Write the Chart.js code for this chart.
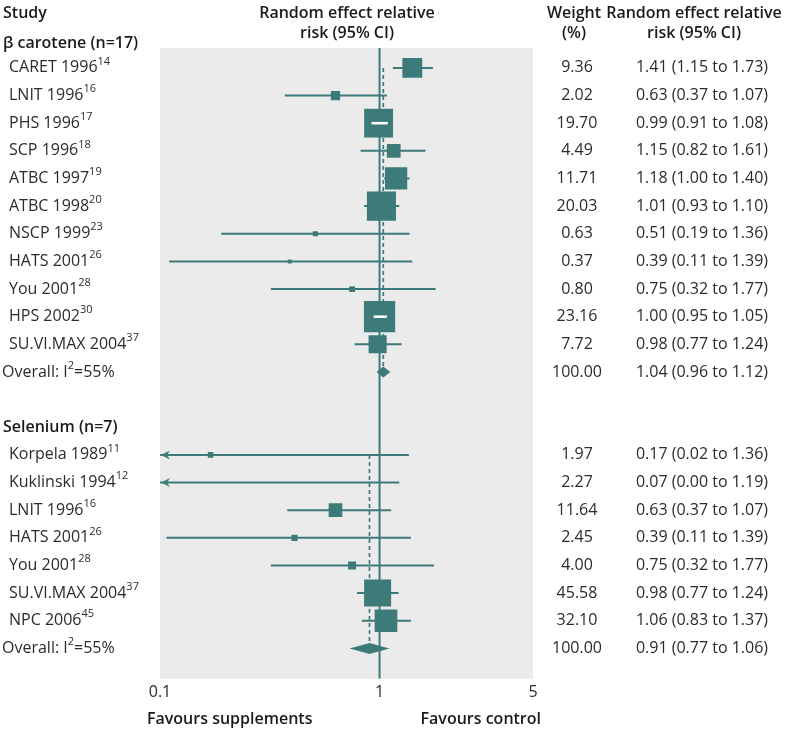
<!DOCTYPE html>
<html>
<head>
<meta charset="utf-8">
<script src="https://cdn.jsdelivr.net/npm/chart.js@4.4.1/dist/chart.umd.min.js"></script>
<style>
  body { margin: 0; background: #ffffff; }
  #forest { display: block; }
</style>
</head>
<body>
<canvas id="forest" width="790" height="730"></canvas>
<script>
// beta carotene trials
let betaStudies = ['CARET 1996', 'LNIT 1996', 'PHS 1996', 'SCP 1996', 'ATBC 1997', 'ATBC 1998',
  'NSCP 1999', 'HATS 2001', 'You 2001', 'HPS 2002', 'SU.VI.MAX 2004'];
let betaRefs = ['14', '16', '17', '18', '19', '20', '23', '26', '28', '30', '37'];
let betaWeights = [9.36, 2.02, 19.70, 4.49, 11.71, 20.03, 0.63, 0.37, 0.80, 23.16, 7.72];
let betaRR = ['1.41 (1.15 to 1.73)', '0.63 (0.37 to 1.07)', '0.99 (0.91 to 1.08)', '1.15 (0.82 to 1.61)',
  '1.18 (1.00 to 1.40)', '1.01 (0.93 to 1.10)', '0.51 (0.19 to 1.36)', '0.39 (0.11 to 1.39)',
  '0.75 (0.32 to 1.77)', '1.00 (0.95 to 1.05)', '0.98 (0.77 to 1.24)'];
// what the plot draws
let betaEst = [1.41, 0.63, 0.99, 1.16, 1.19, 1.02, 0.51, 0.39, 0.75, 1.00, 0.98];
let betaLo = [1.15, 0.37, 0.92, 0.82, 1.05, 0.85, 0.19, 0.11, 0.32, 0.94, 0.77];
let betaHi = [1.75, 1.08, 1.09, 1.62, 1.37, 1.23, 1.37, 1.41, 1.80, 1.08, 1.26];
let betaPooled = [1.04, 0.97, 1.12]; // estimate, low, high
let betaPooledRR = '1.04 (0.96 to 1.12)';

// selenium trials
let selStudies = ['Korpela 1989', 'Kuklinski 1994', 'LNIT 1996', 'HATS 2001', 'You 2001',
  'SU.VI.MAX 2004', 'NPC 2006'];
let selRefs = ['11', '12', '16', '26', '28', '37', '45'];
let selWeights = [1.97, 2.27, 11.64, 2.45, 4.00, 45.58, 32.10];
let selRR = ['0.17 (0.02 to 1.36)', '0.07 (0.00 to 1.19)', '0.63 (0.37 to 1.07)', '0.39 (0.11 to 1.39)',
  '0.75 (0.32 to 1.77)', '0.98 (0.77 to 1.24)', '1.06 (0.83 to 1.37)'];
let selEst = [0.17, 0.07, 0.63, 0.41, 0.75, 0.98, 1.07];
let selLo = [0.02, 0.00, 0.38, 0.107, 0.32, 0.79, 0.83];
let selHi = [1.36, 1.23, 1.13, 1.39, 1.77, 1.22, 1.39];
let selPooled = [0.90, 0.73, 1.11];
let selPooledRR = '0.91 (0.77 to 1.06)';

let tickValues = [0.1, 1, 5];
let tickLabels = ['0.1', '1', '5'];

let teal = '#3d7b7b';
let textColor = '#2b2b2b';
let font = '"Open Sans", "Noto Sans", sans-serif';
let bold = '600 16px ' + font;
let xMin = 0.1, xMax = 5;

// each group: where it sits (row numbers) and how big its boxes are
let groups = [
  { title: 'β carotene (n=17)', titleRow: -0.9, firstRow: 0, boxScale: 6.5,
    names: betaStudies, refs: betaRefs, weights: betaWeights, rr: betaRR,
    est: betaEst, lo: betaLo, hi: betaHi, pooled: betaPooled, pooledRR: betaPooledRR },
  { title: 'Selenium (n=7)', titleRow: 13, firstRow: 14, boxScale: 4,
    names: selStudies, refs: selRefs, weights: selWeights, rr: selRR,
    est: selEst, lo: selLo, hi: selHi, pooled: selPooled, pooledRR: selPooledRR }
];

// build the datasets from the arrays
let boxes = [];
let boxRadius = [];
let ciLines = [];
let dashed = [];
for (const g of groups) {
  g.est.forEach((v, i) => {
    let row = g.firstRow + i;
    // a point with no values breaks the line
    ciLines.push({ x: Math.max(g.lo[i], xMin), y: row }, { x: Math.min(g.hi[i], xMax), y: row }, { x: null, y: null });
    if (v >= xMin) {
      boxes.push({ x: v, y: row });
      // chart.js rect side = radius * sqrt(2)
      boxRadius.push(g.boxScale * Math.sqrt(g.weights[i]) / Math.SQRT2);
    }
  });
  g.overallRow = g.firstRow + g.est.length;
  dashed.push({
    showLine: true, pointRadius: 0, borderColor: teal, borderWidth: 1.7,
    borderDash: [4, 3],
    data: [{ x: g.pooled[0], y: g.firstRow }, { x: g.pooled[0], y: g.overallRow }]
  });
}

// grey panel behind the plot
let panel = {
  id: 'panel',
  beforeDatasetsDraw(chart) {
    let a = chart.chartArea;
    let ctx = chart.ctx;
    ctx.save();
    ctx.fillStyle = '#ebebeb';
    ctx.fillRect(a.left, a.top, a.right - a.left, a.bottom - a.top);
    ctx.restore();
  }
};

// diamonds, arrows and the white line inside big boxes
let marks = {
  id: 'marks',
  afterDatasetsDraw(chart) {
    let ctx = chart.ctx;
    let xs = chart.scales.x, ys = chart.scales.y;
    ctx.save();
    for (const g of groups) {
      g.est.forEach((v, i) => {
        let y = ys.getPixelForValue(g.firstRow + i);
        let lo = xs.getPixelForValue(Math.max(g.lo[i], xMin));
        let hi = xs.getPixelForValue(Math.min(g.hi[i], xMax));
        let side = g.boxScale * Math.sqrt(g.weights[i]);
        let cx = xs.getPixelForValue(v);
        if (v >= xMin && lo > cx - side / 2 && hi < cx + side / 2) {
          ctx.strokeStyle = '#ffffff';
          ctx.lineWidth = 2.5;
          ctx.beginPath();
          ctx.moveTo(lo, y);
          ctx.lineTo(hi, y);
          ctx.stroke();
        }
        if (g.lo[i] < xMin) {
          let left = chart.chartArea.left;
          ctx.fillStyle = teal;
          ctx.beginPath();
          ctx.moveTo(left + 1, y);
          ctx.lineTo(left + 10, y - 4.5);
          ctx.lineTo(left + 7, y);
          ctx.lineTo(left + 10, y + 4.5);
          ctx.closePath();
          ctx.fill();
        }
      });
      // pooled diamond
      let y = ys.getPixelForValue(g.overallRow);
      ctx.fillStyle = teal;
      ctx.beginPath();
      ctx.moveTo(xs.getPixelForValue(g.pooled[1]), y);
      ctx.lineTo(xs.getPixelForValue(g.pooled[0]), y - 5.5);
      ctx.lineTo(xs.getPixelForValue(g.pooled[2]), y);
      ctx.lineTo(xs.getPixelForValue(g.pooled[0]), y + 5.5);
      ctx.closePath();
      ctx.fill();
    }
    ctx.restore();
  }
};

// draws text with a superscript, parts = [[text, isSup], ...]
function drawParts(ctx, parts, x, y, size) {
  for (const [t, sup] of parts) {
    ctx.font = (sup ? Math.round(size * 0.68) : size) + 'px ' + font;
    ctx.fillText(t, x, sup ? y - size * 0.4 : y);
    x += ctx.measureText(t).width;
  }
}

// all the text columns round the plot
let columns = {
  id: 'columns',
  afterDraw(chart) {
    let ctx = chart.ctx;
    let ys = chart.scales.y;
    let size = 16;
    ctx.save();
    ctx.textBaseline = 'middle';
    ctx.fillStyle = '#1a1a1a';
    ctx.font = bold;
    ctx.textAlign = 'left';
    ctx.fillText('Study', 3, 13);
    ctx.textAlign = 'center';
    ctx.fillText('Random effect relative', 347, 13);
    ctx.fillText('risk (95% CI)', 347, 33);
    ctx.fillText('Weight', 574, 13);
    ctx.fillText('(%)', 574, 33);
    ctx.fillText('Random effect relative', 694, 13);
    ctx.fillText('risk (95% CI)', 694, 33);
    ctx.textAlign = 'left';
    ctx.fillText('Favours supplements', 147, 719);
    ctx.textAlign = 'right';
    ctx.fillText('Favours control', 541, 719);

    for (const g of groups) {
      ctx.fillStyle = '#1a1a1a';
      ctx.textAlign = 'left';
      ctx.font = bold;
      ctx.fillText(g.title, 3, ys.getPixelForValue(g.titleRow));
      ctx.fillStyle = textColor;
      g.names.forEach((n, i) => {
        let y = ys.getPixelForValue(g.firstRow + i);
        ctx.textAlign = 'left';
        drawParts(ctx, [[n, false], [g.refs[i], true]], 9, y, size);
        ctx.font = size + 'px ' + font;
        ctx.textAlign = 'center';
        ctx.fillText(g.weights[i].toFixed(2), 577, y);
        ctx.fillText(g.rr[i], 702, y);
      });
      let y = ys.getPixelForValue(g.overallRow);
      ctx.textAlign = 'left';
      drawParts(ctx, [['Overall: I', false], ['2', true], ['=55%', false]], 2, y, size);
      ctx.font = size + 'px ' + font;
      ctx.textAlign = 'center';
      ctx.fillText('100.00', 577, y);
      ctx.fillText(g.pooledRR, 702, y);
    }
    ctx.restore();
  }
};

let chart = new Chart(document.getElementById('forest'), {
  type: 'scatter',
  data: {
    datasets: [
      // boxes on top of the lines
      { data: boxes, pointStyle: 'rect', pointRadius: boxRadius, pointHoverRadius: boxRadius,
        backgroundColor: teal, borderWidth: 0 },
      { data: ciLines, showLine: true, spanGaps: false, pointRadius: 0, borderColor: teal, borderWidth: 2 },
      ...dashed,
      // line of no effect
      { data: [{ x: 1, y: -0.72 }, { x: 1, y: 22.1 }], showLine: true, pointRadius: 0,
        borderColor: teal, borderWidth: 2 }
    ]
  },
  options: {
    responsive: false,
    animation: false,
    events: [],
    layout: { padding: { left: 160, right: 257, top: 48, bottom: 24 } },
    plugins: { legend: { display: false }, tooltip: { enabled: false } },
    scales: {
      x: {
        type: 'logarithmic', min: xMin, max: xMax,
        afterBuildTicks: (scale) => { scale.ticks = tickValues.map(v => ({ value: v })); },
        ticks: {
          autoSkip: false, maxRotation: 0, padding: 4, color: textColor,
          font: { family: font, size: 16 },
          callback: (value) => tickLabels[tickValues.indexOf(value)]
        },
        grid: { display: false, drawTicks: false },
        border: { display: false }
      },
      y: { type: 'linear', reverse: true, min: -0.72, max: 22.1, display: false }
    }
  },
  plugins: [panel, marks, columns]
});
</script>
</body>
</html>
